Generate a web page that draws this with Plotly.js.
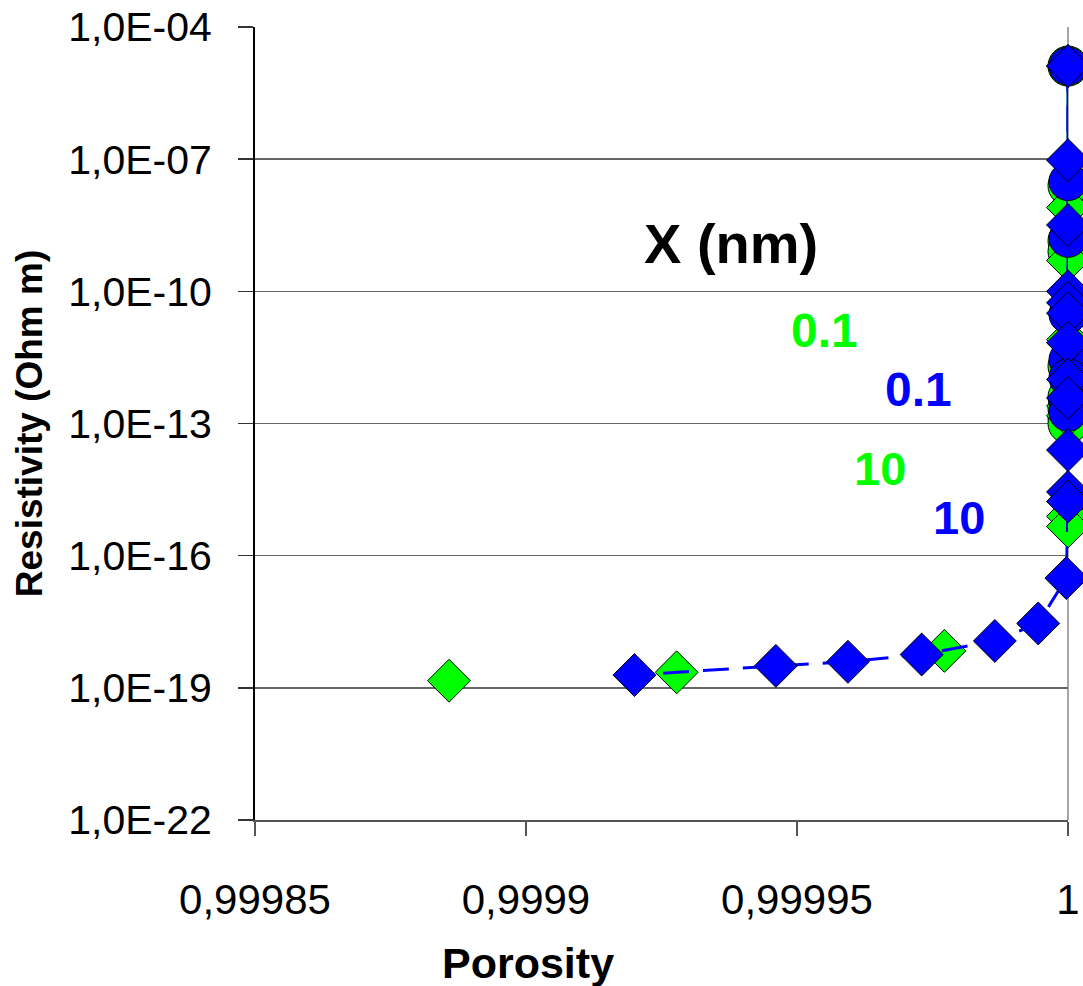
<!DOCTYPE html>
<html>
<head>
<meta charset="utf-8">
<script src="https://cdn.plot.ly/plotly-3.0.1.min.js"></script>
<style>html,body{margin:0;padding:0;background:#fff;}#chart{width:1083px;height:986px;}</style>
</head>
<body>
<div id="chart"></div>
<script>
// ---- data ----
var greenCircleX = [1, 1, 1, 1, 1, 1, 1, 1, 1];
var greenCircleY = [1.3e-5, 2.5e-8, 1.4e-9, 8e-10, 2e-12, 4e-13, 2.2e-13, 1.4e-13, 1e-13];

var greenDiamondX = [1, 1, 1, 1, 1, 1, 1, 1, 0.9999772, 0.9999278, 0.9998858];
var greenDiamondY = [1.3e-5, 8e-9, 5e-10, 8e-12, 2.5e-13, 1.5e-13, 7.8e-16, 4.6e-16, 6.9e-19, 2.25e-19, 1.45e-19];

var blueCircleX = [1, 1, 1, 1, 1, 1, 1, 1];
var blueCircleY = [1.3e-5, 3.1e-8, 1.6e-9, 3e-11, 2.8e-12, 1.1e-12, 3e-13, 1.8e-13];

var blueDiamondX = [1, 1, 1, 1, 1, 1, 1, 1, 1, 1, 1, 1, 0.9999997, 0.9999945, 0.9999865, 0.999973, 0.9999594, 0.9999461, 0.99992];
var blueDiamondY = [1.3e-5, 9.5e-8, 3.2e-9, 1e-10, 5.5e-11, 3.2e-11, 6.8e-12, 1e-12, 3.8e-13, 2.5e-14, 2.8e-15, 1.7e-15, 3.1e-17, 2.9e-18, 1.16e-18, 5.7e-19, 3.9e-19, 3.15e-19, 1.95e-19];

var xTickVals = [0.99985, 0.9999, 0.99995, 1];
var xTickText = ['0,99985', '0,9999', '0,99995', '1'];
var yTickVals = [1e-22, 1e-19, 1e-16, 1e-13, 1e-10, 1e-7, 1e-4];
var yTickText = ['1,0E-22', '1,0E-19', '1,0E-16', '1,0E-13', '1,0E-10', '1,0E-07', '1,0E-04'];

var labelTexts = ['X (nm)', '0.1', '0.1', '10', '10'];
var xTitle = 'Porosity';
var yTitle = 'Resistivity (Ohm m)';

// ---- styling ----
var GREEN = '#00ff00', BLUE = '#0000ff';
var FONT = 'Liberation Sans, Arial, sans-serif';

var traces = [
  {x: greenCircleX, y: greenCircleY, type: 'scatter', mode: 'lines+markers', cliponaxis: false,
   line: {color: GREEN, width: 3},
   marker: {symbol: 'circle', size: 40, color: GREEN, line: {color: '#000', width: 1}}},
  {x: greenDiamondX, y: greenDiamondY, type: 'scatter', mode: 'markers', cliponaxis: false,
   marker: {symbol: 'diamond', size: 33, color: GREEN, line: {color: '#000', width: 1}}},
  {x: blueCircleX, y: blueCircleY, type: 'scatter', mode: 'lines+markers', cliponaxis: false,
   line: {color: BLUE, width: 3},
   marker: {symbol: 'circle', size: 38, color: BLUE, line: {color: '#000', width: 1}}},
  {x: blueDiamondX, y: blueDiamondY, type: 'scatter', mode: 'lines+markers', cliponaxis: false,
   line: {color: BLUE, width: 3, dash: '26px,14px'},
   marker: {symbol: 'diamond', size: 33, color: BLUE, line: {color: '#000', width: 1}}}
];

var layout = {
  width: 1083, height: 986,
  margin: {l: 255, r: 15, t: 27, b: 166, pad: 0},
  paper_bgcolor: '#ffffff', plot_bgcolor: '#ffffff',
  showlegend: false,
  font: {family: FONT, color: '#000'},
  xaxis: {
    range: [0.99985, 1.0], tickmode: 'array', tickvals: xTickVals, ticktext: xTickText,
    ticks: 'outside', ticklen: 14, tickwidth: 1.5, tickcolor: '#555',
    showgrid: false, zeroline: false, showline: true, linecolor: '#555', linewidth: 2,
    tickfont: {family: FONT, size: 42, color: '#000'}, ticklabelstandoff: 28
  },
  yaxis: {
    type: 'log', range: [-22, -4], tickmode: 'array', tickvals: yTickVals, ticktext: yTickText,
    ticks: 'outside', ticklen: 15, tickwidth: 1.5, tickcolor: '#333',
    showgrid: true, gridcolor: '#666', gridwidth: 1.5, zeroline: false,
    showline: true, linecolor: '#000', linewidth: 2,
    tickfont: {family: FONT, size: 41, color: '#000'}, ticklabelstandoff: 18,
    title: {text: '<b>' + yTitle + '</b>', font: {family: FONT, size: 37, color: '#000'}, standoff: 14}
  },
  shapes: [
    {type: 'line', xref: 'paper', yref: 'paper', x0: 1, x1: 1, y0: 0, y1: 1, layer: 'below',
     line: {color: '#888', width: 1.5}}
  ],
  annotations: [
    {text: '<b>' + xTitle + '</b>', xref: 'paper', yref: 'paper', x: (528 - 255) / 813, y: 1 - (963 - 27) / 793,
     xanchor: 'center', yanchor: 'middle', showarrow: false, font: {family: FONT, size: 43, color: '#000'}},
    {text: '<b>' + labelTexts[0] + '</b>', xref: 'paper', yref: 'paper', x: (731 - 255) / 813, y: 1 - (244 - 27) / 793,
     xanchor: 'center', yanchor: 'middle', showarrow: false, font: {family: FONT, size: 56, color: '#000'}},
    {text: '<b>' + labelTexts[1] + '</b>', xref: 'paper', yref: 'paper', x: (824 - 255) / 813, y: 1 - (331 - 27) / 793,
     xanchor: 'center', yanchor: 'middle', showarrow: false, font: {family: FONT, size: 48, color: GREEN}},
    {text: '<b>' + labelTexts[2] + '</b>', xref: 'paper', yref: 'paper', x: (918 - 255) / 813, y: 1 - (389 - 27) / 793,
     xanchor: 'center', yanchor: 'middle', showarrow: false, font: {family: FONT, size: 48, color: BLUE}},
    {text: '<b>' + labelTexts[3] + '</b>', xref: 'paper', yref: 'paper', x: (880 - 255) / 813, y: 1 - (468 - 27) / 793,
     xanchor: 'center', yanchor: 'middle', showarrow: false, font: {family: FONT, size: 47, color: GREEN}},
    {text: '<b>' + labelTexts[4] + '</b>', xref: 'paper', yref: 'paper', x: (959 - 255) / 813, y: 1 - (517 - 27) / 793,
     xanchor: 'center', yanchor: 'middle', showarrow: false, font: {family: FONT, size: 47, color: BLUE}}
  ]
};

Plotly.newPlot('chart', traces, layout, {staticPlot: true, displayModeBar: false});
</script>
</body>
</html>
